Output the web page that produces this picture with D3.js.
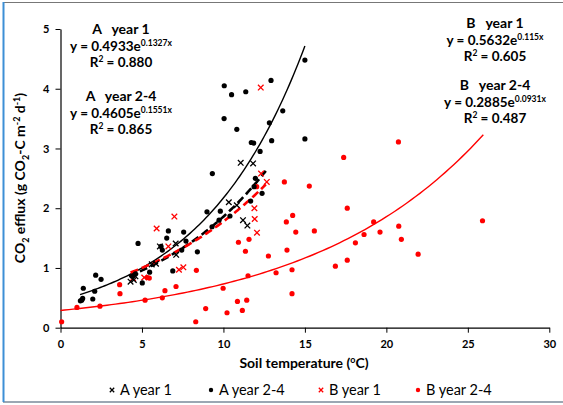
<!DOCTYPE html>
<head>
<meta charset="utf-8">
<style>
  body { margin: 0; background: #fff; }
  svg { font-family: Lato, "Open Sans", sans-serif; }
</style>
<script src="https://d3js.org/d3.v7.min.js"></script>
</head>
<body>
<script>
// data: [soil temperature, efflux]
var aYear1 = [[4.3,0.77],[4.5,0.80],[4.6,0.86],[5.6,1.06],[5.86,1.07],[6.1,1.36],[7.07,1.41],[7.1,1.22],
  [10.33,2.10],[10.82,2.05],[11.06,2.76],[11.82,2.75],[11.2,1.80],[11.47,1.71]];
var aYear24 = [[1.22,0.45],[1.3,0.46],[1.36,0.49],[1.4,0.66],[1.98,0.48],[2.1,0.61],[2.16,0.88],[2.49,0.81],
  [4.4,0.86],[4.6,0.90],[4.76,1.41],[5.02,0.75],[5.47,0.93],[6.17,1.36],[6.25,1.30],[6.52,1.50],[6.62,1.62],
  [6.89,0.95],[7.44,1.30],[7.56,1.60],[7.7,1.45],[8.4,1.27],[8.99,1.94],[9.3,1.69],[9.32,2.58],[9.73,1.80],
  [9.81,1.95],[10.04,3.50],[10.05,4.05],[10.4,1.87],[10.5,3.90],[10.82,3.32],[11.37,3.95],[11.67,2.12],
  [11.71,3.10],[11.86,3.09],[11.88,2.36],[11.96,2.50],[12.25,2.95],[12.37,2.25],[12.82,3.43],[12.92,4.14],
  [12.96,3.13],[13.64,3.63],[15.0,4.48],[15.0,3.16]];
var bYear1 = [[4.45,0.83],[5.14,0.84],[5.9,1.66],[6.62,1.36],[6.99,1.86],[7.27,0.97],[7.54,1.01],[11.92,1.82],
  [11.9,2.0],[12.06,1.59],[12.29,4.02],[12.31,2.58],[12.66,2.44]];
var bYear24 = [[0.07,0.10],[1.01,0.34],[2.42,0.36],[3.63,0.72],[3.65,0.57],[5.19,0.46],[5.33,0.84],[5.45,0.83],
  [6.25,0.50],[6.41,0.62],[7.09,0.69],[8.3,0.10],[8.34,0.96],[8.91,0.32],[9.98,0.66],[10.22,0.25],[10.86,0.44],
  [10.92,1.43],[11.16,0.29],[11.35,1.28],[11.43,0.46],[11.51,0.87],[11.57,1.48],[12.04,2.36],[12.76,1.20],
  [13.23,0.92],[13.74,2.44],[13.86,1.77],[13.9,1.30],[14.21,0.97],[14.21,0.57],[14.25,1.88],[14.44,1.60],
  [15.27,2.37],[15.58,1.62],[16.87,1.03],[17.38,2.85],[17.6,2.0],[17.6,1.13],[18.1,1.42],[18.63,1.56],
  [19.22,1.77],[19.61,1.60],[20.74,3.11],[20.76,1.70],[20.92,1.48],[21.95,1.23],[25.9,1.79]];

// exponential fits y = a*e^(b*x), drawn over [from, to]
var fits = [
  {name: "A year 1",   a: 0.4933, b: 0.1327, from: 4.2, to: 12.6, color: "#000", dash: "8,4", width: 2.6},
  {name: "A year 2-4", a: 0.4605, b: 0.1551, from: 1.2, to: 15.0, color: "#000", dash: null, width: 1.4},
  {name: "B year 1",   a: 0.5632, b: 0.115,  from: 4.3, to: 12.6, color: "#f00", dash: "8,4", width: 2.6},
  {name: "B year 2-4", a: 0.2885, b: 0.0931, from: 0,   to: 25.95, color: "#f00", dash: null, width: 1.4}
];
var xTicks = [0, 5, 10, 15, 20, 25, 30];
var yTicks = [0, 1, 2, 3, 4, 5];

var width = 563, height = 405;
var svg = d3.select("body").append("svg").attr("width", width).attr("height", height);

// frame
svg.append("line").attr("x1", 3).attr("x2", width).attr("y1", 2.5).attr("y2", 2.5)
  .attr("stroke", "#777").attr("stroke-width", 1);
svg.append("line").attr("x1", 3).attr("x2", width).attr("y1", 402).attr("y2", 402)
  .attr("stroke", "#7a8a9a").attr("stroke-width", 1.5);
svg.append("line").attr("x1", 3.5).attr("x2", 3.5).attr("y1", 2).attr("y2", 402)
  .attr("stroke", "#3d8fd6").attr("stroke-width", 2);

var x = d3.scaleLinear().domain([0, 30]).range([60.5, 549.3]);
var y = d3.scaleLinear().domain([0, 5]).range([327.7, 29]);

var xAxis = svg.append("g").attr("transform", "translate(0," + y(0) + ")")
  .call(d3.axisBottom(x).tickValues(xTicks).tickFormat(d3.format("d")).tickSize(5).tickSizeOuter(0));
var yAxis = svg.append("g").attr("transform", "translate(" + x(0) + ",0)")
  .call(d3.axisLeft(y).tickValues(yTicks).tickFormat(d3.format("d")).tickSize(5).tickSizeOuter(0));
[xAxis, yAxis].forEach(function(g) {
  g.select(".domain").attr("stroke", "#000").attr("stroke-width", 1.2);
  g.selectAll(".tick line").attr("stroke", "#000");
  g.selectAll(".tick text").attr("font-family", "Lato, sans-serif").attr("font-weight", "bold")
    .attr("font-size", 11).attr("fill", "#000");
});
xAxis.selectAll(".tick text").attr("dy", "1.15em");
yAxis.selectAll(".tick text").attr("dx", "-3");

// fitted curves
var line = d3.line().x(function(d) { return x(d[0]); }).y(function(d) { return y(d[1]); });
fits.forEach(function(f) {
  var pts = d3.range(0, 101).map(function(i) {
    var t = f.from + (f.to - f.from) * i / 100;
    return [t, f.a * Math.exp(f.b * t)];
  });
  svg.append("path").datum(pts).attr("d", line).attr("fill", "none")
    .attr("stroke", f.color).attr("stroke-width", f.width)
    .attr("stroke-dasharray", f.dash);
});

// markers
function dots(data, color) {
  svg.append("g").selectAll("circle").data(data).enter().append("circle")
    .attr("cx", function(d) { return x(d[0]); })
    .attr("cy", function(d) { return y(d[1]); })
    .attr("r", 2.6).attr("fill", color);
}
function crosses(data, color) {
  svg.append("g").selectAll("path").data(data).enter().append("path")
    .attr("d", function(d) {
      var cx = x(d[0]), cy = y(d[1]), s = 2.8;
      return "M" + (cx - s) + "," + (cy - s) + "L" + (cx + s) + "," + (cy + s) +
        "M" + (cx - s) + "," + (cy + s) + "L" + (cx + s) + "," + (cy - s);
    })
    .attr("stroke", color).attr("stroke-width", 1.3);
}
dots(bYear24, "#f00");
crosses(bYear1, "#f00");
dots(aYear24, "#000");
crosses(aYear1, "#000");

// equation labels
function eqBlock(cx, top, title, a, b, r2) {
  var g = svg.append("g").attr("font-weight", "bold").attr("font-size", 13.5).attr("text-anchor", "middle");
  g.append("text").attr("x", cx).attr("y", top).attr("font-size", 14).style("white-space", "pre").text(title);
  var t = g.append("text").attr("x", cx).attr("y", top + 17);
  t.append("tspan").text("y = " + a + "e");
  t.append("tspan").attr("font-size", 8.5).attr("dy", -5).text(b + "x");
  var r = g.append("text").attr("x", cx).attr("y", top + 33);
  r.append("tspan").text("R");
  r.append("tspan").attr("font-size", 8.5).attr("dy", -5).text("2");
  r.append("tspan").attr("dy", 5).text(" = " + r2);
}
eqBlock(121, 34, "A   year 1", "0.4933", "0.1327", "0.880");
eqBlock(121, 101, "A   year 2-4", "0.4605", "0.1551", "0.865");
eqBlock(495, 28, "B   year 1", "0.5632", "0.115", "0.605");
eqBlock(495, 90, "B   year 2-4", "0.2885", "0.0931", "0.487");

// axis titles
var xt = svg.append("text").attr("x", 304).attr("y", 368).attr("text-anchor", "middle")
  .attr("font-weight", "bold").attr("font-size", 14);
xt.append("tspan").text("Soil temperature (");
xt.append("tspan").attr("font-size", 9).attr("dy", -5).text("o");
xt.append("tspan").attr("dy", 5).text("C)");

var yt = svg.append("text").attr("transform", "translate(25,178) rotate(-90)").attr("text-anchor", "middle")
  .attr("font-weight", "bold").attr("font-size", 14);
yt.append("tspan").text("CO");
yt.append("tspan").attr("font-size", 9).attr("dy", 4).text("2");
yt.append("tspan").attr("dy", -4).text(" efflux (g CO");
yt.append("tspan").attr("font-size", 9).attr("dy", 4).text("2");
yt.append("tspan").attr("dy", -4).text("-C m");
yt.append("tspan").attr("font-size", 9).attr("dy", -5).text("-2");
yt.append("tspan").attr("dy", 5).text(" d");
yt.append("tspan").attr("font-size", 9).attr("dy", -5).text("-1");
yt.append("tspan").attr("dy", 5).text(")");

// legend
var legend = [
  {label: "A year 1", color: "#000", shape: "x", x: 112},
  {label: "A year 2-4", color: "#000", shape: "o", x: 211},
  {label: "B year 1", color: "#f00", shape: "x", x: 321},
  {label: "B year 2-4", color: "#f00", shape: "o", x: 418}
];
legend.forEach(function(l) {
  var ly = 390;
  if (l.shape === "o") {
    svg.append("circle").attr("cx", l.x).attr("cy", ly).attr("r", 2.2).attr("fill", l.color);
  } else {
    svg.append("path").attr("d", "M" + (l.x - 2.2) + "," + (ly - 2.2) + "L" + (l.x + 2.2) + "," + (ly + 2.2) +
      "M" + (l.x - 2.2) + "," + (ly + 2.2) + "L" + (l.x + 2.2) + "," + (ly - 2.2))
      .attr("stroke", l.color).attr("stroke-width", 1.3);
  }
  svg.append("text").attr("x", l.x + 8).attr("y", ly + 5).attr("font-size", 14.5).attr("fill", "#000")
    .text(l.label);
});
</script>
</body>
</html>
